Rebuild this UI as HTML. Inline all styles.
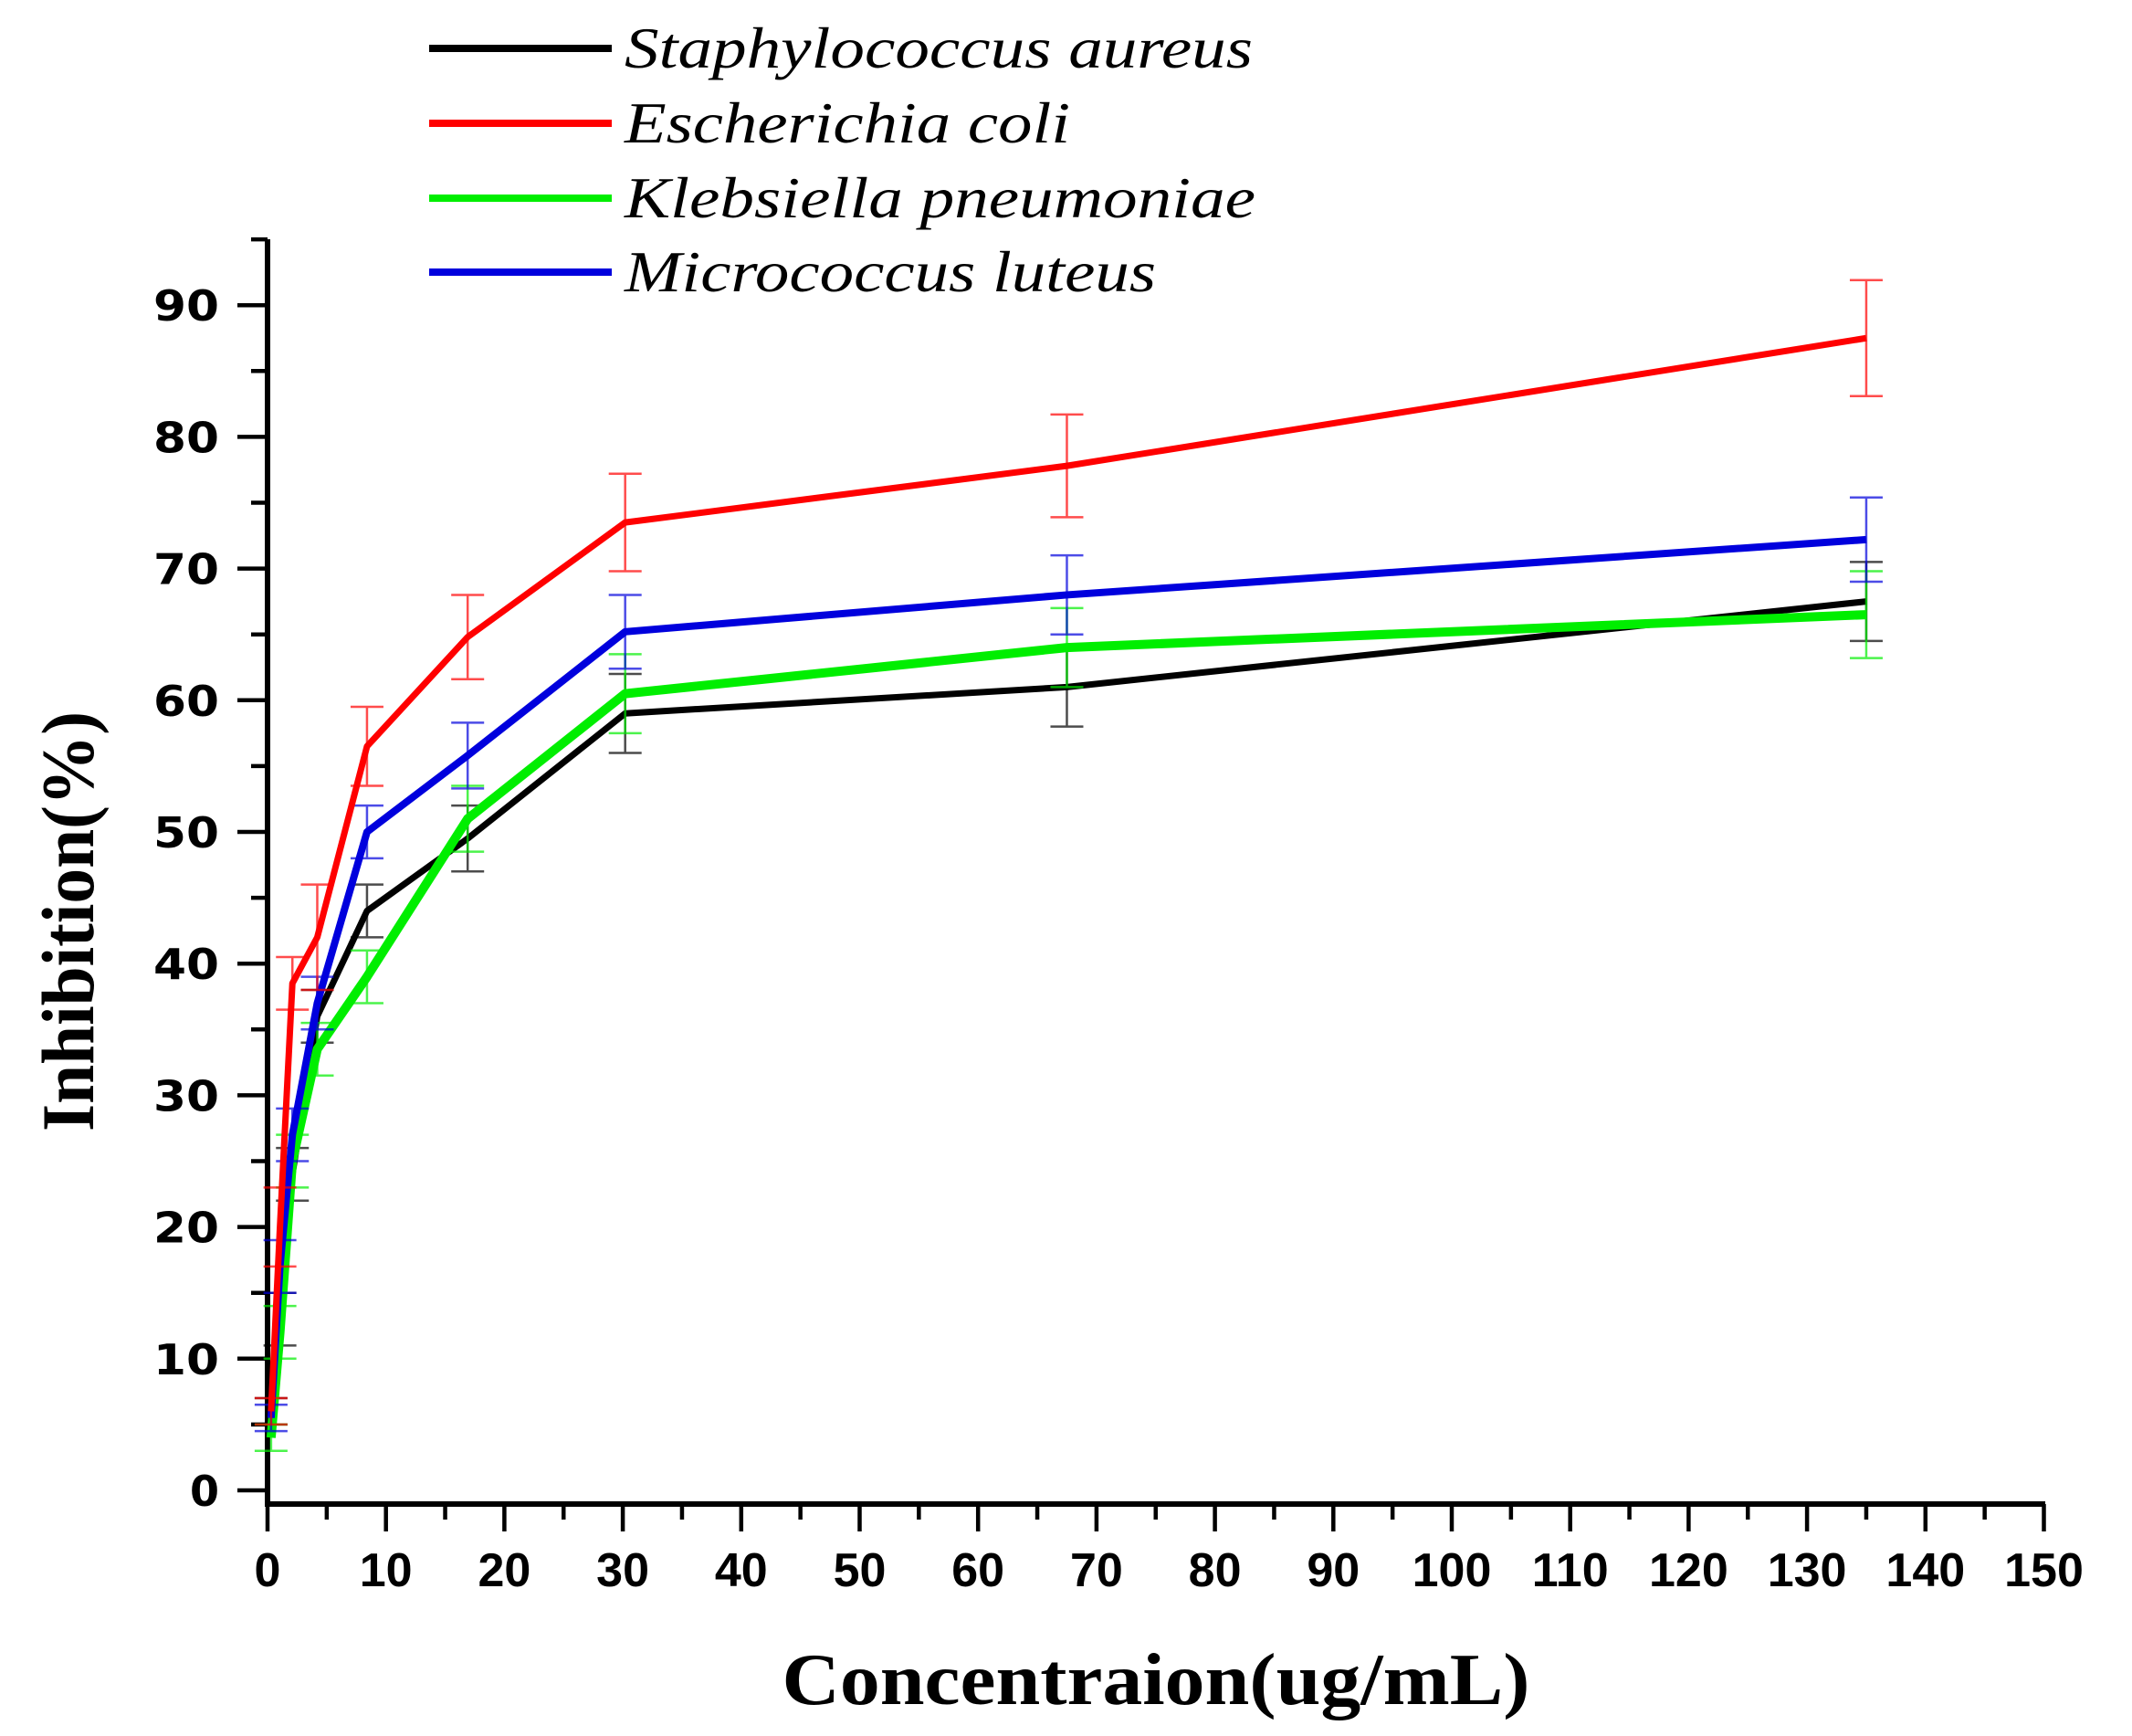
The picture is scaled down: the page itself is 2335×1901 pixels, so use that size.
<!DOCTYPE html>
<html><head><meta charset="utf-8"><style>html,body{margin:0;padding:0;background:#fff}svg{display:block}</style></head>
<body>
<svg width="2335" height="1901" viewBox="0 0 2335 1901" xmlns="http://www.w3.org/2000/svg">
<rect width="2335" height="1901" fill="#fff"/>
<g stroke="#000" stroke-width="6" fill="none">
<line x1="293" y1="262" x2="293" y2="1650"/>
<line x1="290" y1="1647" x2="2240" y2="1647"/>
</g>
<g stroke="#000" stroke-width="4.5" id="yt"></g>
<g stroke="#000" stroke-width="4.5" id="xt"></g>
<g font-family="'DejaVu Sans','Liberation Sans',sans-serif" font-weight="bold" font-size="46" fill="#000" id="yl" text-anchor="end"></g>
<g font-family="'Liberation Sans',sans-serif" font-weight="bold" font-size="52" fill="#000" id="xl" text-anchor="middle"></g>
<g id="series"></g>
<text x="1266" y="1866" text-anchor="middle" font-family="'Liberation Serif',serif" font-weight="bold" font-size="80" textLength="819" lengthAdjust="spacingAndGlyphs">Concentraion(ug/mL)</text>
<text transform="translate(102,1009) rotate(-90)" text-anchor="middle" font-family="'Liberation Serif',serif" font-weight="bold" font-size="82" textLength="460" lengthAdjust="spacingAndGlyphs">Inhibition(%)</text>
<g stroke-width="8">
<line x1="470" y1="53" x2="670" y2="53" stroke="#000"/>
<line x1="470" y1="135" x2="670" y2="135" stroke="#f00"/>
<line x1="470" y1="217" x2="670" y2="217" stroke="#0e0"/>
<line x1="470" y1="298" x2="670" y2="298" stroke="#00d"/>
</g>
<g font-family="'Liberation Serif',serif" font-style="italic" font-size="64" fill="#000">
<text x="684" y="74" textLength="688" lengthAdjust="spacingAndGlyphs">Staphylococcus aureus</text>
<text x="684" y="156" textLength="488" lengthAdjust="spacingAndGlyphs">Escherichia coli</text>
<text x="684" y="238" textLength="691" lengthAdjust="spacingAndGlyphs">Klebsiella pneumoniae</text>
<text x="684" y="319" textLength="582" lengthAdjust="spacingAndGlyphs">Micrococcus luteus</text>
</g>
<script>
const NS="http://www.w3.org/2000/svg";
function el(p,t,a,txt){const e=document.createElementNS(NS,t);for(const k in a)e.setAttribute(k,a[k]);if(txt!==undefined)e.textContent=txt;document.getElementById(p).appendChild(e);return e;}
const X=c=>293+12.97*c, Y=v=>1632-14.42*v;
for(let v=0;v<=95;v+=5){const maj=v%10==0;el('yt','line',{x1:maj?260:275,x2:293,y1:Y(v),y2:Y(v)});if(maj){const t=el('yl','text',{x:240,y:Y(v)+17},v);if(v>0){t.setAttribute('textLength',72);t.setAttribute('lengthAdjust','spacingAndGlyphs');}}}
for(let c=0;c<=150;c+=5){const maj=c%10==0;el('xt','line',{x1:X(c),x2:X(c),y1:1647,y2:maj?1677:1664});if(maj)el('xl','text',{x:X(c),y:1737},c);}
const cs=[0.3,1.05,2.1,4.2,8.4,16.9,30.2,67.5,135];
const S=[
["#000",7,[6,13,24,36,44,49.5,59,61,67.5],[1,2,2,2,2,2.5,3,3,3]],
["#0e0",10,[4,12,25,33.5,39,51,60.5,64,66.5],[1,2,2,2,2,2.5,3,3,3.3]],
["#00d",8,[5.5,17,27,37,50,55.8,65.2,68,72.2],[1,2,2,2,2,2.5,2.8,3,3.2]],
["#f00",7,[6,20,38.5,42,56.5,64.8,73.5,77.8,87.5],[1,3,2,4,3,3.2,3.7,3.9,4.4]]];
for(const [col,w,vs,es] of S){
 let d=cs.map((c,i)=>(i?'L':'M')+X(c)+' '+Y(vs[i])).join(' ');
 cs.forEach((c,i)=>{const x=X(c),a=Y(vs[i]+es[i]),b=Y(vs[i]-es[i]);
  el('series','path',{d:`M${x} ${a}V${b}M${x-18} ${a}H${x+18}M${x-18} ${b}H${x+18}`,stroke:col,'stroke-width':2.5,fill:'none','stroke-opacity':0.7});});
 el('series','path',{d:d,stroke:col,'stroke-width':w,fill:'none','stroke-linejoin':'round'});
}
</script>
</svg>
</body></html>
